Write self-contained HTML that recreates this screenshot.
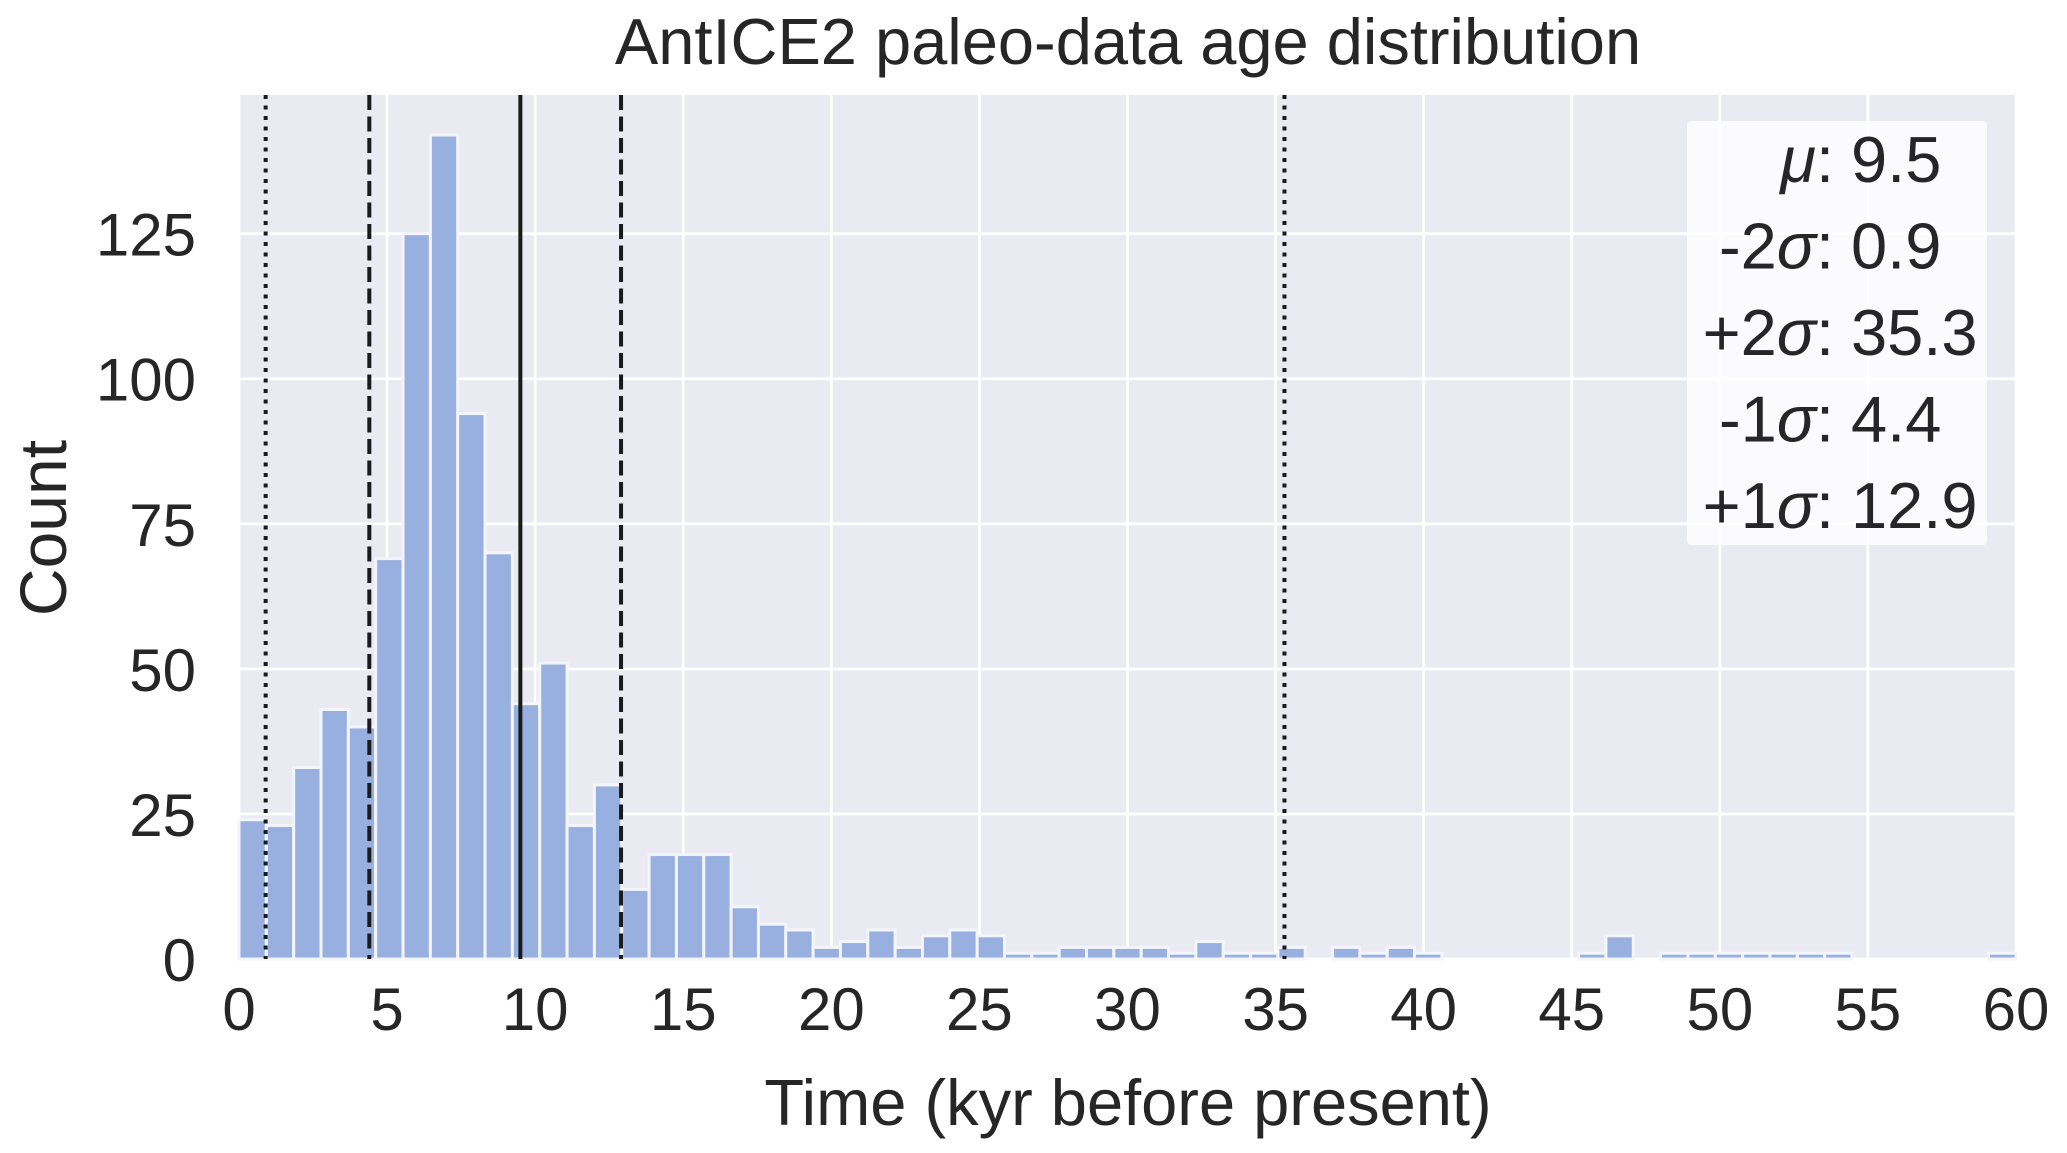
<!DOCTYPE html>
<html><head><meta charset="utf-8"><style>
html,body{margin:0;padding:0;background:#fff;}
svg{display:block;font-family:"Liberation Sans",Arial,sans-serif;}
</style></head><body>
<svg id="chart" width="2067" height="1153" viewBox="0 0 2067 1153">
<rect x="239" y="95" width="1777" height="864" fill="#eaeaf2"/>
<g id="grid"></g>
<g id="bars"></g>
<g id="vlines"></g>
<g id="ticks"></g>
<text x="1128" y="64" font-size="65" fill="#262626" text-anchor="middle">AntICE2 paleo-data age distribution</text>
<text x="1128" y="1125" font-size="65" fill="#262626" text-anchor="middle">Time (kyr before present)</text>
<text x="0" y="0" font-size="66" fill="#262626" text-anchor="middle" transform="translate(66,528) rotate(-90)">Count</text>
<g id="legend">
<rect x="1687" y="121" width="300" height="424" fill="#ffffff" fill-opacity="0.8" rx="4"/>
</g>
</svg>
<script>
const binCounts = [24,23,33,43,40,69,125,142,94,70,44,51,23,30,12,18,18,18,9,6,5,2,3,5,2,4,5,4,1,1,2,2,2,2,1,3,1,1,2,0,2,1,2,1,0,0,0,0,0,1,4,0,1,1,1,1,1,1,1,0,0,0,0,0,1];
const binStart = 0;
const binEnd = 60;
const xTicks = [0,5,10,15,20,25,30,35,40,45,50,55,60];
const yTicks = [0,25,50,75,100,125];
const statLabels = ["\u03bc","-2\u03c3","+2\u03c3","-1\u03c3","+1\u03c3"];
const statValues = [9.5,0.9,35.3,4.4,12.9];
const statStyles = ["solid","dotted","dotted","dashed","dashed"];

const NS = "http://www.w3.org/2000/svg";
const X0 = 239, X1 = 2016, Y0 = 959, Y1 = 95;
const xMin = 0, xMax = 60, yMax = 148.9;
const xs = v => X0 + (v - xMin) / (xMax - xMin) * (X1 - X0);
const ys = v => Y0 - v / yMax * (Y0 - Y1);
function mk(tag, attrs, parent){ const e = document.createElementNS(NS, tag); for (const k in attrs) e.setAttribute(k, attrs[k]); parent.appendChild(e); return e; }

const grid = document.getElementById('grid');
const ticks = document.getElementById('ticks');
xTicks.forEach(t => {
  const l = mk('line', {x1: xs(t), x2: xs(t), y1: Y1, y2: Y0, stroke: '#fff', 'stroke-width': 2.8}, grid);
  
  
  const tx = mk('text', {x: xs(t), y: 1030, 'font-size': 60, fill: '#262626', 'text-anchor': 'middle'}, ticks);
  tx.textContent = t;
  
  
});
yTicks.forEach(t => {
  const l = mk('line', {x1: X0, x2: X1, y1: ys(t), y2: ys(t), stroke: '#fff', 'stroke-width': 2.8}, grid);
  
  
  const tx = mk('text', {x: 196, y: ys(t) + 22, 'font-size': 60, fill: '#262626', 'text-anchor': 'end'}, ticks);
  tx.textContent = t;
  
  
});

const bars = document.getElementById('bars');
const bw = (binEnd - binStart) / binCounts.length;
binCounts.forEach((c, i) => {
  if (c <= 0) return;
  const a = binStart + i * bw, b = a + bw;
  const r = mk('rect', {x: xs(a), y: ys(c), width: xs(b) - xs(a), height: ys(0) - ys(c), fill: '#98b0e0', stroke: '#f4f5fb', 'stroke-width': 3}, bars);
  
  
});

const vl = document.getElementById('vlines');
statValues.forEach((v, i) => {
  const st = statStyles[i];
  const attrs = {x1: xs(v), x2: xs(v), y1: Y1, y2: Y0, stroke: '#1a1a1a', 'stroke-width': 4};
  if (st === 'dashed') attrs['stroke-dasharray'] = '15,6.5';
  if (st === 'dotted') attrs['stroke-dasharray'] = '4,6.5';
  const l = mk('line', attrs, vl);
  
  
});

const lg = document.getElementById('legend');
statLabels.forEach((lab, i) => {
  const y = 182 + i * 86.5;
  const t1 = mk('text', {x: 1834, y: y, 'font-size': 65, fill: '#262626', 'text-anchor': 'end'}, lg);
  const sym = lab.replace(/[+\-0-9]/g, '');
  const pre = lab.slice(0, lab.length - sym.length);
  if (pre) { const s0 = mk('tspan', {}, t1); s0.textContent = pre; }
  const s1 = mk('tspan', {'font-style': 'italic'}, t1); s1.textContent = sym;
  const s2 = mk('tspan', {}, t1); s2.textContent = ':';
  
  
  const t2 = mk('text', {x: 1851, y: y, 'font-size': 65, fill: '#262626'}, lg);
  t2.textContent = statValues[i];
  
  
});
</script>
</body></html>
